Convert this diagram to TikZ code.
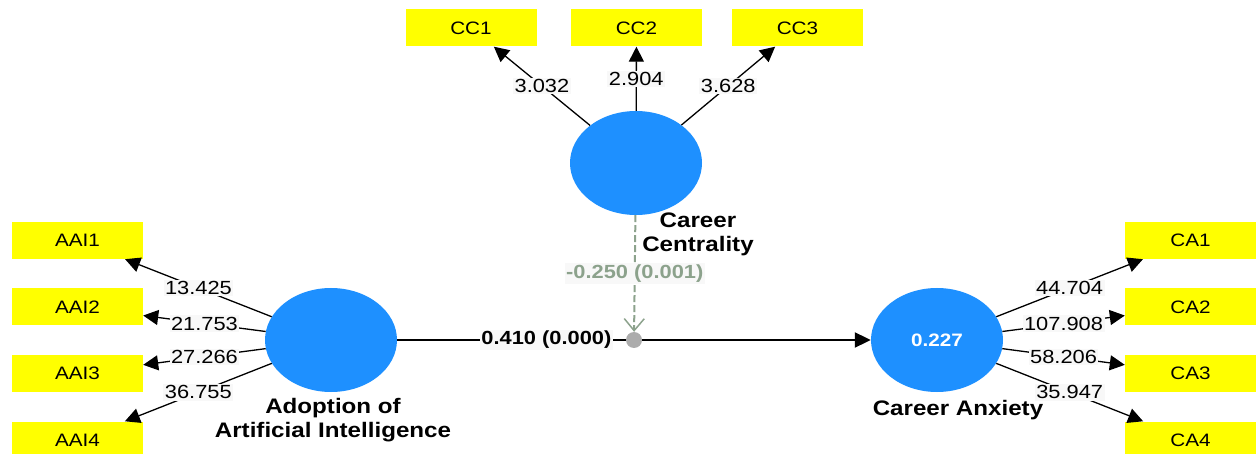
\documentclass[tikz,border=0pt]{standalone}
\usepackage{fontspec}
\setmainfont{Liberation Sans}[FakeStretch=1.15]
\usetikzlibrary{arrows.meta,shapes.geometric}
\definecolor{latentblue}{RGB}{30,144,255}
\definecolor{indyellow}{RGB}{255,255,0}
\definecolor{lblfill}{RGB}{248,248,248}
\definecolor{modgreen}{RGB}{140,162,140}
\definecolor{dotgray}{RGB}{172,172,172}
\tikzset{
  latent/.style={ellipse,fill=latentblue,minimum width=132pt,minimum height=104pt,inner sep=0pt,text=white,font=\fontsize{18}{20}\selectfont\bfseries},
  indicator/.style={fill=indyellow,minimum width=131pt,minimum height=37pt,inner sep=0pt,font=\fontsize{18}{20}\selectfont},
  loading/.style={-{Triangle[length=15pt,width=15pt]},line width=1.3pt},
  lbl/.style={fill=lblfill,inner sep=1.5pt,font=\fontsize{19}{21}\selectfont},
  latentname/.style={align=center,inner sep=0pt,font=\fontsize{21}{24}\selectfont\bfseries},
}
\begin{document}
\begin{tikzpicture}[x=1pt,y=1pt,yscale=-1]
\useasboundingbox (0,0) rectangle (1256,454);

% Latent variables
\node[latent] (cc) at (636,163) {};
\node[latent] (aai) at (331,340) {};
\node[latent] (ca) at (937,340) {0.227};

% Indicators
\node[indicator] (cc1) at (471,28) {CC1};
\node[indicator] (cc2) at (636.5,28) {CC2};
\node[indicator] (cc3) at (797.5,28) {CC3};
\node[indicator] (aai1) at (77.5,240.5) {AAI1};
\node[indicator] (aai2) at (77.5,307) {AAI2};
\node[indicator] (aai3) at (77.5,373.5) {AAI3};
\node[indicator] (aai4) at (77.5,440) {AAI4};
\node[indicator] (ca1) at (1190.5,240.5) {CA1};
\node[indicator] (ca2) at (1190.5,307) {CA2};
\node[indicator] (ca3) at (1190.5,373.5) {CA3};
\node[indicator] (ca4) at (1190.5,440) {CA4};

% Names
\node[latentname] (ccname) at (698,234) {Career\\Centrality};
\node[latentname] (aainame) at (333,420) {Adoption of\\Artificial Intelligence};
\node[latentname] (caname) at (958,410) {Career Anxiety};

% Outer loadings
\draw[loading] (cc) -- node[lbl]{3.032} (cc1);
\draw[loading] (cc) -- node[lbl]{2.904} (cc2);
\draw[loading] (cc) -- node[lbl]{3.628} (cc3);
\draw[loading] (aai) -- node[lbl]{13.425} (aai1);
\draw[loading] (aai) -- node[lbl]{21.753} (aai2);
\draw[loading] (aai) -- node[lbl]{27.266} (aai3);
\draw[loading] (aai) -- node[lbl]{36.755} (aai4);
\draw[loading] (ca) -- node[lbl]{44.704} (ca1);
\draw[loading] (ca) -- node[lbl]{107.908} (ca2);
\draw[loading] (ca) -- node[lbl]{58.206} (ca3);
\draw[loading] (ca) -- node[lbl]{35.947} (ca4);

% Structural path
\draw[-{Triangle[length=16pt,width=15pt]},line width=2pt] (aai) -- node[lbl,pos=0.315,font=\fontsize{19}{21}\selectfont\bfseries]{0.410 (0.000)} (ca);
\path (aai) -- node[circle,fill=dotgray,minimum size=16pt,inner sep=0pt] (mod) {} (ca);

% Moderating effect
\draw[modgreen,line width=2pt,dash pattern={on 7pt off 3pt},-{Straight Barb[length=12pt,width=20pt,line width=1.5pt]}] (cc) -- node[lbl,text=modgreen,font=\fontsize{19}{21}\selectfont\bfseries]{-0.250 (0.001)} (mod);
\end{tikzpicture}
\end{document}
